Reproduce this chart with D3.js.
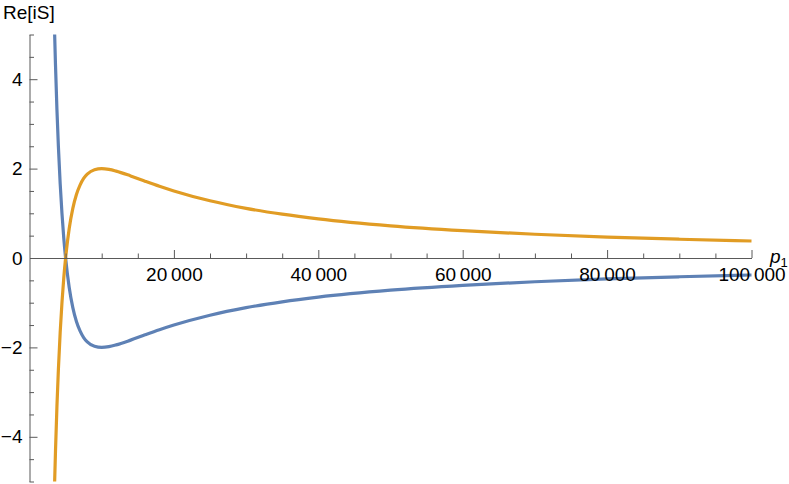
<!DOCTYPE html>
<html>
<head>
<meta charset="utf-8">
<script src="https://cdn.jsdelivr.net/npm/d3@7"></script>
<style>
  html, body { margin: 0; padding: 0; background: #fff; }
  svg { display: block; font-family: "Liberation Sans", Arial, sans-serif; }
  .axis path, .axis line { stroke: #595959; }
  .axis text { fill: #000; font-size: 19px; }
</style>
</head>
<body>
<div id="chart"></div>
<script>
// values
const p1 = [3480, 3600, 3800, 4000, 4250, 4500, 4750, 5000, 5500, 6000, 6500, 7000, 7500, 8000, 9000,
  10000, 11000, 12000, 14000, 16000, 18000, 20000, 25000, 30000, 35000, 40000, 50000,
  60000, 70000, 80000, 90000, 100000];
const orangeSeries = [-5.02, -4.32, -3.32, -2.5, -1.66, -0.99, -0.44, 0, 0.66, 1.11, 1.42, 1.63, 1.78, 1.875, 1.975,
  2.0, 1.983, 1.944, 1.837, 1.719, 1.605, 1.5, 1.28, 1.111, 0.98, 0.875, 0.72,
  0.611, 0.531, 0.469, 0.42, 0.38];
const blueSeries = [5.02, 4.32, 3.32, 2.5, 1.66, 0.99, 0.44, 0, -0.66, -1.11, -1.42, -1.63, -1.78, -1.875, -1.975,
  -2.0, -1.983, -1.944, -1.837, -1.719, -1.605, -1.5, -1.28, -1.111, -0.98, -0.875, -0.72,
  -0.611, -0.531, -0.469, -0.42, -0.38];

const xMajor = [20000, 40000, 60000, 80000, 100000];
const xMajorLabels = ["20\u2009000", "40\u2009000", "60\u2009000", "80\u2009000", "100\u2009000"];
const yMajor = [-4, -2, 0, 2, 4];
const yMajorLabels = ["\u22124", "\u22122", "0", "2", "4"];

const width = 789, height = 484;

const svg = d3.select("#chart").append("svg")
  .attr("width", width).attr("height", height);

const xScale = d3.scaleLinear().domain([0, 100000]).range([29.5, 751.5]);
const yScale = d3.scaleLinear().domain([-5, 5]).range([481.5, 34.5]);

// minor ticks
const xMinor = d3.range(5000, 100001, 5000).filter(v => !xMajor.includes(v));
const yMinor = d3.range(-5, 5.01, 0.5).filter(v => !yMajor.includes(v));

svg.append("g")
  .attr("class", "axis")
  .attr("transform", "translate(0," + yScale(0) + ")")
  .call(d3.axisBottom(xScale).tickValues(xMinor).tickSizeInner(-4.5).tickSizeOuter(0).tickFormat(""));

svg.append("g")
  .attr("class", "axis")
  .attr("transform", "translate(0," + yScale(0) + ")")
  .call(d3.axisBottom(xScale).tickValues(xMajor).tickSizeInner(-8).tickSizeOuter(0).tickPadding(10)
    .tickFormat((d, i) => xMajorLabels[i]))
  .call(g => g.select(".domain").remove());

svg.append("g")
  .attr("class", "axis")
  .attr("transform", "translate(" + xScale(0) + ",0)")
  .call(d3.axisLeft(yScale).tickValues(yMinor).tickSizeInner(-4.5).tickSizeOuter(0).tickFormat(""));

svg.append("g")
  .attr("class", "axis")
  .attr("transform", "translate(" + xScale(0) + ",0)")
  .call(d3.axisLeft(yScale).tickValues(yMajor).tickSizeInner(-8).tickSizeOuter(0).tickPadding(7)
    .tickFormat((d, i) => yMajorLabels[i]))
  .call(g => g.select(".domain").remove())
  .call(g => g.selectAll(".tick line").filter(d => d === 0).remove());

// curves
svg.append("clipPath").attr("id", "plotclip")
  .append("rect")
  .attr("x", xScale(0)).attr("y", yScale(5))
  .attr("width", xScale(100000) - xScale(0) + 2)
  .attr("height", yScale(-5) - yScale(5));

const line = d3.line()
  .x(d => xScale(d[0]))
  .y(d => yScale(d[1]))
  .curve(d3.curveMonotoneX);

svg.append("path")
  .datum(p1.map((p, i) => [p, blueSeries[i]]))
  .attr("clip-path", "url(#plotclip)")
  .attr("fill", "none")
  .attr("stroke", "#5e81b5")
  .attr("stroke-width", 3.2)
  .attr("d", line);

svg.append("path")
  .datum(p1.map((p, i) => [p, orangeSeries[i]]))
  .attr("clip-path", "url(#plotclip)")
  .attr("fill", "none")
  .attr("stroke", "#e19c24")
  .attr("stroke-width", 3.2)
  .attr("d", line);

// tick labels sit over the curves
svg.selectAll(".axis").filter(function() { return !d3.select(this).select("text").empty(); }).raise();

// axis labels
svg.append("text")
  .attr("x", 3).attr("y", 19)
  .attr("font-size", 19)
  .text("Re[iS]");

const pl = svg.append("text")
  .attr("x", 770).attr("y", 263)
  .attr("font-size", 19);
pl.append("tspan").attr("font-style", "italic").text("p");
pl.append("tspan").attr("font-size", 13).attr("dy", 4).text("1");
</script>
</body>
</html>
